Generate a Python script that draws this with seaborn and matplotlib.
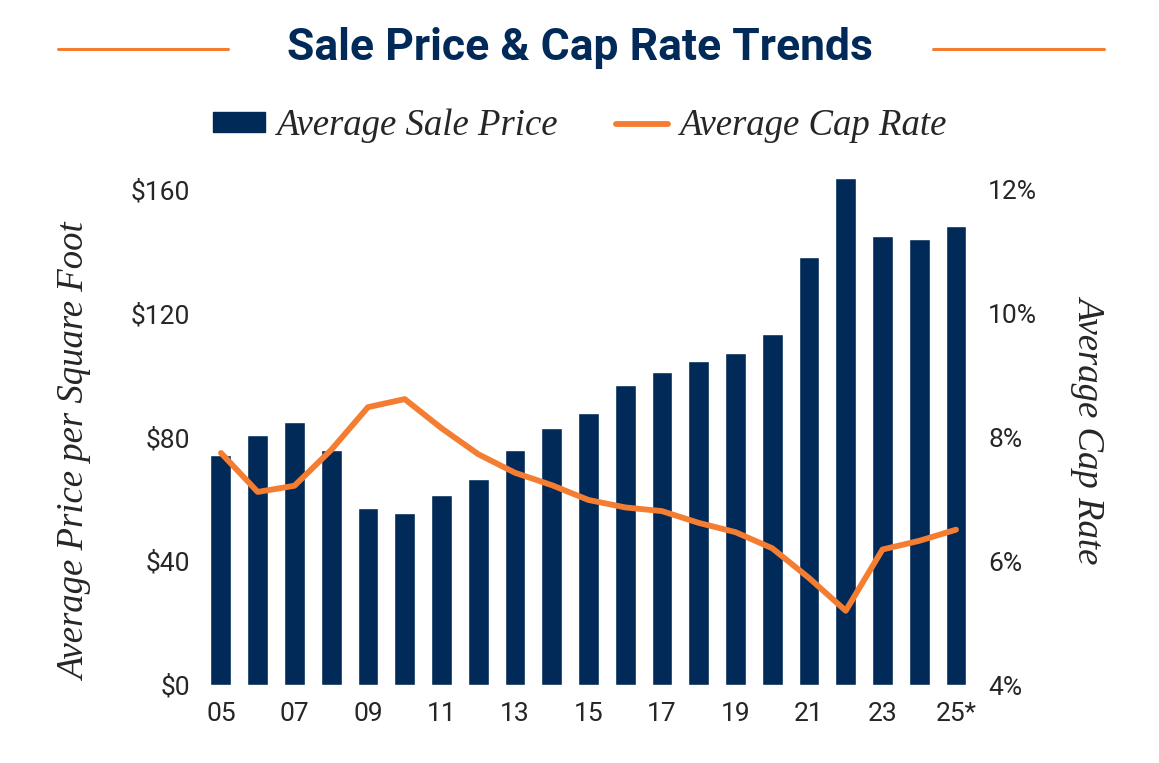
import pandas as pd
import numpy as np
import matplotlib.pyplot as plt
import seaborn as sns
from matplotlib.lines import Line2D
from matplotlib.patches import Patch

# datos
years = ['05', '06', '07', '08', '09', '10', '11', '12', '13', '14', '15',
         '16', '17', '18', '19', '20', '21', '22', '23', '24', '25*']
sale_price = [74.3, 80.8, 85, 76, 57.2, 55.6, 61.4, 66.6, 76, 83, 88,
              97, 101, 104.7, 107.3, 113.4, 138.3, 164, 145, 144, 148.3]
cap_rate = [7.75, 7.12, 7.22, 7.8, 8.49, 8.62, 8.15, 7.73, 7.43, 7.23, 6.99,
            6.87, 6.81, 6.62, 6.47, 6.21, 5.73, 5.2, 6.19, 6.33, 6.51]
price_ticks = [0, 40, 80, 120, 160]
price_labels = ['$0', '$40', '$80', '$120', '$160']
cap_ticks = [4, 6, 8, 10, 12]
cap_labels = ['4%', '6%', '8%', '10%', '12%']

navy = '#012A58'
orange = '#F47D32'

df = pd.DataFrame({'year': years, 'price': sale_price, 'cap': cap_rate})
df['pos'] = np.arange(len(df))

sns.set_style('white')
plt.rcParams['font.family'] = ['Roboto', 'DejaVu Sans']

fig = plt.figure(figsize=(11.59, 7.63), dpi=100)
ax = fig.add_axes([0.1748, 0.1022, 0.6659, 0.6732])

sns.barplot(data=df, x='pos', y='price', color=navy, width=0.57,
            saturation=1, ax=ax, native_scale=True)
ax.set_xlim(-0.5, len(df) - 0.5)
ax.set_ylim(0, 166)

ax2 = ax.twinx()
sns.lineplot(data=df, x='pos', y='cap', color=orange, linewidth=4.2, ax=ax2)
ax2.set_ylim(4, 4 + 166 / 20)

for a in (ax, ax2):
    for s in a.spines.values():
        s.set_visible(False)
    a.tick_params(length=0)

ax.set_xticks(df['pos'][::2])
ax.set_xticklabels(df['year'][::2], fontsize=19)
ax.set_yticks(price_ticks)
ax.set_yticklabels(price_labels, fontsize=19)
ax2.set_yticks(cap_ticks)
ax2.set_yticklabels(cap_labels, fontsize=19)
ax.tick_params(axis='x', pad=12)
ax.tick_params(axis='y', pad=9)
ax2.tick_params(axis='y', pad=10)

serif = ['Liberation Serif', 'DejaVu Serif']
ax.set_xlabel('')
ax.set_ylabel('Average Price per Square Foot', fontsize=26.5, style='italic',
              family=serif)
ax.yaxis.set_label_coords(-0.142, 0.453)
ax2.set_ylabel('Average Cap Rate', fontsize=26.5, style='italic', family=serif,
               rotation=270, labelpad=50)

# titulo con lineas laterales
fig.text(0.5, 1 - 48 / 763, 'Sale Price & Cap Rate Trends', ha='center',
         va='center', fontsize=32, fontweight='bold', color=navy,
         family=['Liberation Sans Narrow', 'Roboto', 'DejaVu Sans'])
fig.add_artist(Line2D([58 / 1159, 228 / 1159], [1 - 49 / 763] * 2,
                      color=orange, lw=2.2))
fig.add_artist(Line2D([933 / 1159, 1104 / 1159], [1 - 49 / 763] * 2,
                      color=orange, lw=2.2))

handles = [Patch(color=navy, label='Average Sale Price'),
           Line2D([], [], color=orange, lw=4.2, label='Average Cap Rate')]
fig.legend(handles=handles, loc='center', bbox_to_anchor=(0.5, 1 - 126 / 763),
           ncol=2, frameon=False, handlelength=1.4, handleheight=0.45,
           columnspacing=1.6, handletextpad=0.3,
           prop={'family': serif, 'style': 'italic', 'size': 26.5})

fig.savefig('out.png', dpi=100)
